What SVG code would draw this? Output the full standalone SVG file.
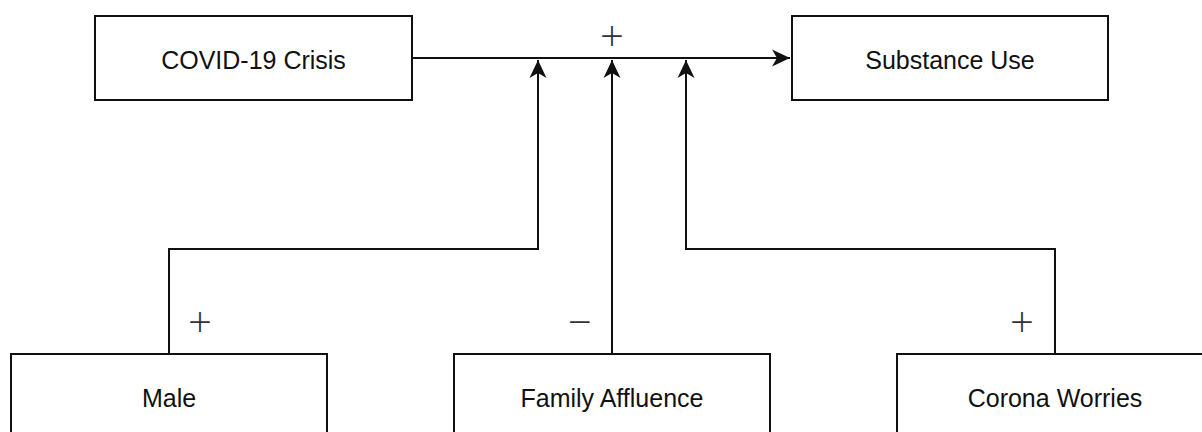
<svg xmlns="http://www.w3.org/2000/svg" width="1202" height="432" viewBox="0 0 1202 432">
  <style>
    .box { fill: #ffffff; stroke: #111111; stroke-width: 2; }
    .label { font-family: "Liberation Sans", Arial, sans-serif; font-size: 25px; fill: #111111; text-anchor: middle; }
    .edge { fill: none; stroke: #111111; stroke-width: 2; }
    .sign { font-family: "Open Sans", "Liberation Sans", sans-serif; font-weight: 300; font-size: 42px; fill: #333333; text-anchor: middle; }
  </style>
  <defs>
    <marker id="arrow" markerUnits="userSpaceOnUse" markerWidth="20" markerHeight="20" viewBox="-18 -10 20 20" refX="0" refY="0" orient="auto">
      <path d="M0,0 L-18,-8.5 L-13,0 L-18,8.5 Z" fill="#111111"/>
    </marker>
  </defs>
  <rect width="1202" height="432" fill="#ffffff"/>

  <g id="connectors">
    <path class="edge" d="M412,58 L790,58" marker-end="url(#arrow)"/>
    <path class="edge" d="M169,354 L169,249 L538,249 L538,60" marker-end="url(#arrow)"/>
    <path class="edge" d="M612,354 L612,60" marker-end="url(#arrow)"/>
    <path class="edge" d="M1055,354 L1055,249 L686,249 L686,60" marker-end="url(#arrow)"/>
    <text class="sign" x="612" y="51">+</text>
    <text class="sign" x="200" y="337">+</text>
    <text class="sign" x="580" y="337">−</text>
    <text class="sign" x="1022" y="337">+</text>
  </g>

  <g id="covid">
    <rect class="box" x="95" y="16" width="317" height="84"/>
    <text class="label" x="253.5" y="69">COVID-19 Crisis</text>
  </g>
  <g id="substance">
    <rect class="box" x="792" y="16" width="316" height="84"/>
    <text class="label" x="950" y="69">Substance Use</text>
  </g>
  <g id="male">
    <rect class="box" x="11" y="354" width="316" height="84"/>
    <text class="label" x="169" y="407">Male</text>
  </g>
  <g id="affluence">
    <rect class="box" x="454" y="354" width="316" height="84"/>
    <text class="label" x="612" y="407">Family Affluence</text>
  </g>
  <g id="worries">
    <rect class="box" x="897" y="354" width="316" height="84"/>
    <text class="label" x="1055" y="407">Corona Worries</text>
  </g>
</svg>
